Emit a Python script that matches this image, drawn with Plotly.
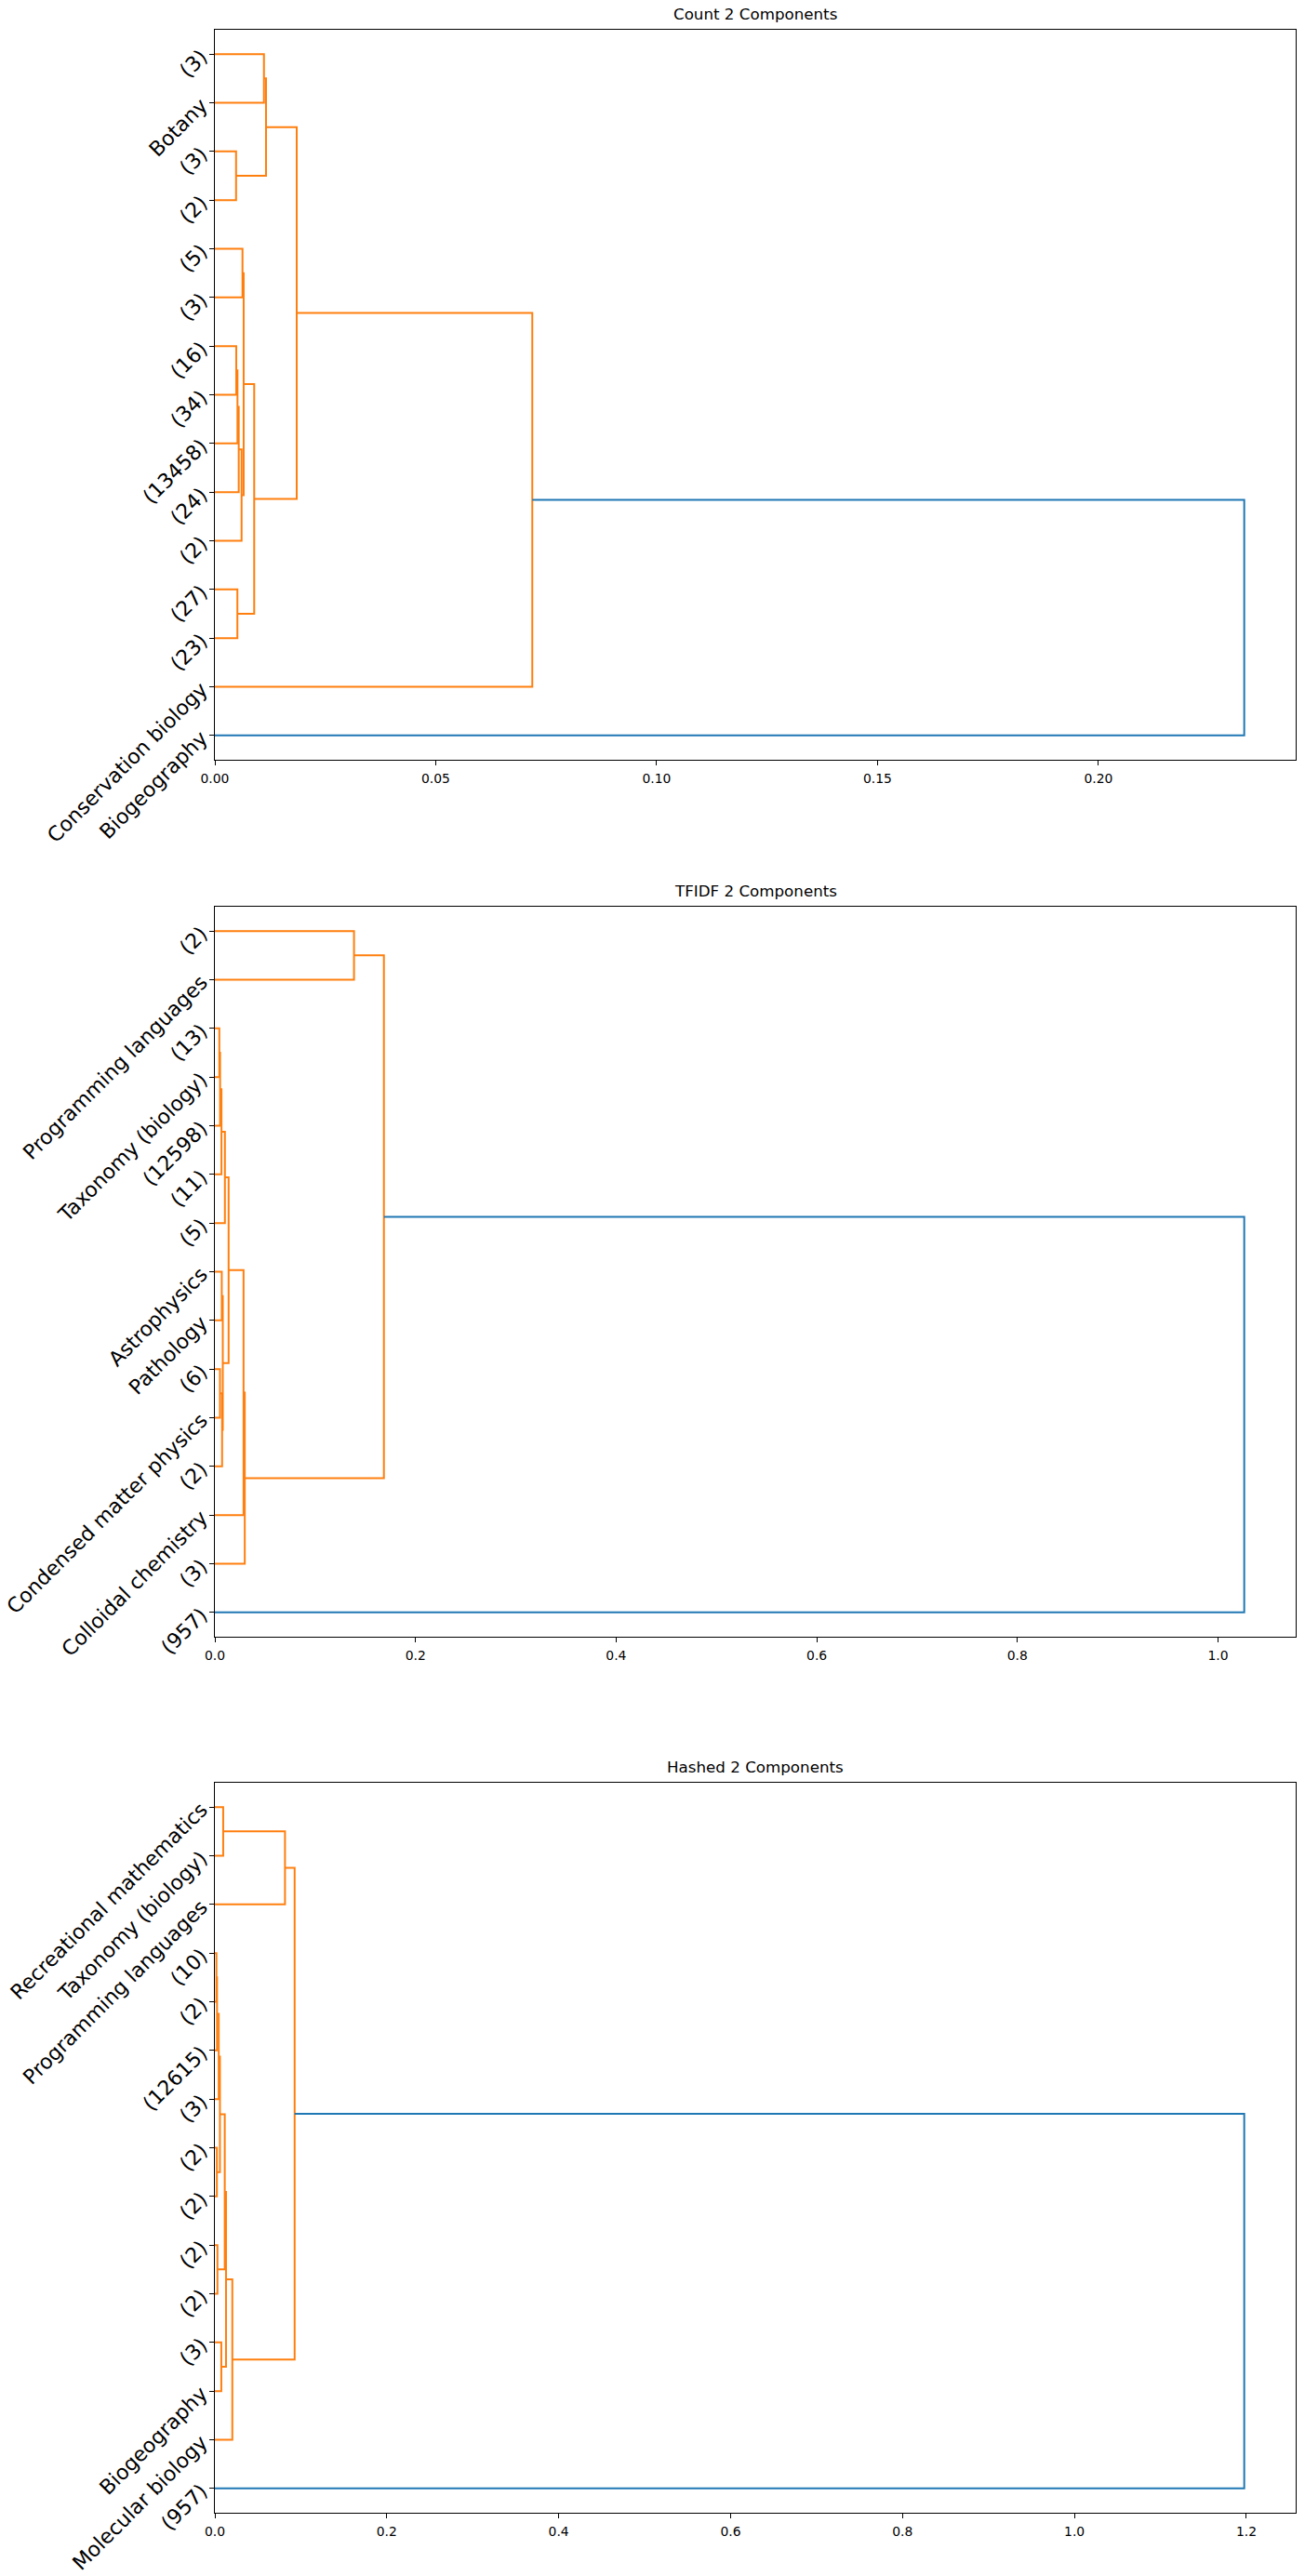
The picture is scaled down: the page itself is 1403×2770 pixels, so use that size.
import plotly.graph_objects as go

W, H = 1403, 2770
ORANGE = "#ff7f0e"
BLUE = "#1f77b4"
FONT = "DejaVu Sans"

titles = ["Count 2 Components", "TFIDF 2 Components", "Hashed 2 Components"]

# ---- Panel 1: Count (leaves listed bottom -> top) ----
labels_count = ["Biogeography", "Conservation biology", "(23)", "(27)", "(2)", "(24)",
                "(13458)", "(34)", "(16)", "(3)", "(5)", "(2)", "(3)", "Botany", "(3)"]
merge_a_count = [7, 6, 5, 4, 9, 18, 2, 20, 13, 11, 23, 22, 1, 0]
merge_b_count = [8, 15, 16, 17, 10, 19, 3, 21, 14, 12, 24, 25, 26, 27]
merge_h_count = [0.00484, 0.00512, 0.00540, 0.00605, 0.00625, 0.00652, 0.00510,
                 0.00890, 0.01111, 0.00480, 0.01158, 0.01853, 0.07185, 0.2330]
xtickvals_count = [0.0, 0.05, 0.10, 0.15, 0.20]
xticktext_count = ["0.00", "0.05", "0.10", "0.15", "0.20"]

# ---- Panel 2: TFIDF ----
labels_tfidf = ["(957)", "(3)", "Colloidal chemistry", "(2)", "Condensed matter physics",
                "(6)", "Pathology", "Astrophysics", "(5)", "(11)", "(12598)",
                "Taxonomy (biology)", "(13)", "Programming languages", "(2)"]
merge_a_tfidf = [11, 10, 9, 8, 6, 4, 3, 19, 18, 2, 1, 13, 25, 0]
merge_b_tfidf = [12, 15, 16, 17, 7, 5, 20, 21, 22, 23, 24, 14, 26, 27]
merge_h_tfidf = [0.00445, 0.0052, 0.0066, 0.0100, 0.0069, 0.0051, 0.0072, 0.0079,
                 0.0137, 0.0286, 0.0298, 0.1387, 0.1685, 1.0261]
xtickvals_tfidf = [0.0, 0.2, 0.4, 0.6, 0.8, 1.0]
xticktext_tfidf = ["0.0", "0.2", "0.4", "0.6", "0.8", "1.0"]

# ---- Panel 3: Hashed ----
labels_hashed = ["(957)", "Molecular biology", "Biogeography", "(3)", "(2)", "(2)", "(2)",
                 "(2)", "(3)", "(12615)", "(2)", "(10)", "Programming languages",
                 "Taxonomy (biology)", "Recreational mathematics"]
merge_a_hashed = [10, 9, 8, 6, 17, 4, 19, 2, 21, 1, 13, 12, 24, 0]
merge_b_hashed = [11, 15, 16, 7, 18, 5, 20, 3, 22, 23, 14, 25, 26, 27]
merge_h_hashed = [0.0018, 0.0025, 0.0045, 0.0023, 0.0059, 0.0030, 0.0115, 0.0075,
                  0.0130, 0.0203, 0.0097, 0.0816, 0.0928, 1.1975]
xtickvals_hashed = [0.0, 0.2, 0.4, 0.6, 0.8, 1.0, 1.2]
xticktext_hashed = ["0.0", "0.2", "0.4", "0.6", "0.8", "1.0", "1.2"]

panels = [
    (labels_count, merge_a_count, merge_b_count, merge_h_count, xtickvals_count, xticktext_count),
    (labels_tfidf, merge_a_tfidf, merge_b_tfidf, merge_h_tfidf, xtickvals_tfidf, xticktext_tfidf),
    (labels_hashed, merge_a_hashed, merge_b_hashed, merge_h_hashed, xtickvals_hashed, xticktext_hashed),
]

# layout in pixels
AX_L, AX_R = 231, 1393
tops = [32, 975, 1917]
PH = 785

fig = go.Figure()
layout = dict(width=W, height=H, margin=dict(l=0, r=0, t=0, b=0, autoexpand=False),
              plot_bgcolor="white", paper_bgcolor="white", showlegend=False,
              font=dict(family=FONT, color="black"))
annotations = []

for p, (labels, ma, mb, mh, xtv, xtt) in enumerate(panels):
    n = len(labels)
    pos = {i: (0.0, 5.0 + 10.0 * i) for i in range(n)}
    thr = 0.7 * max(mh)
    segs = {ORANGE: ([], []), BLUE: ([], [])}
    for k, (a, b, h) in enumerate(zip(ma, mb, mh)):
        xa, ya = pos[a]
        xb, yb = pos[b]
        pos[n + k] = (h, (ya + yb) / 2.0)
        col = BLUE if h > thr else ORANGE
        segs[col][0].extend([xa, h, h, xb, None])
        segs[col][1].extend([ya, ya, yb, yb, None])
    xa_name = "x" if p == 0 else f"x{p+1}"
    ya_name = "y" if p == 0 else f"y{p+1}"
    for col in (ORANGE, BLUE):
        xs, ys = segs[col]
        if xs:
            fig.add_trace(go.Scatter(x=xs, y=ys, mode="lines",
                                     line=dict(color=col, width=2),
                                     xaxis=xa_name, yaxis=ya_name,
                                     hoverinfo="skip"))
    top = tops[p]
    bot = top + PH
    xdom = [AX_L / W, AX_R / W]
    ydom = [1 - bot / H, 1 - top / H]
    xkey = "xaxis" if p == 0 else f"xaxis{p+1}"
    ykey = "yaxis" if p == 0 else f"yaxis{p+1}"
    layout[xkey] = dict(domain=xdom, anchor=ya_name, range=[0, 1.05 * max(mh)],
                        automargin=False,
                        tickvals=xtv, ticktext=xtt, ticks="outside", ticklen=5,
                        tickwidth=1, tickcolor="black", ticklabelstandoff=2,
                        showline=True, mirror=True, linecolor="black", linewidth=1,
                        showgrid=False, zeroline=False,
                        tickfont=dict(family=FONT, size=13.9, color="black"))
    layout[ykey] = dict(domain=ydom, anchor=xa_name, range=[0, 10 * n],
                        automargin=False,
                        tickvals=[5 + 10 * i for i in range(n)], ticktext=labels,
                        ticks="outside", ticklen=5, tickwidth=1, tickcolor="black",
                        tickangle=-45, ticklabelstandoff=4,
                        showline=True, mirror=True, linecolor="black", linewidth=1,
                        showgrid=False, zeroline=False,
                        tickfont=dict(family=FONT, size=22, color="black"))
    annotations.append(dict(text=titles[p], x=(xdom[0] + xdom[1]) / 2, y=ydom[1],
                            xref="paper", yref="paper", xanchor="center", yanchor="bottom",
                            yshift=5, showarrow=False,
                            font=dict(family=FONT, size=16.7, color="black")))

layout["annotations"] = annotations
fig.update_layout(**layout)
fig.write_html("out.html", config={"displayModeBar": False},
               post_script="document.body.style.margin='0';document.body.style.overflow='hidden';")
